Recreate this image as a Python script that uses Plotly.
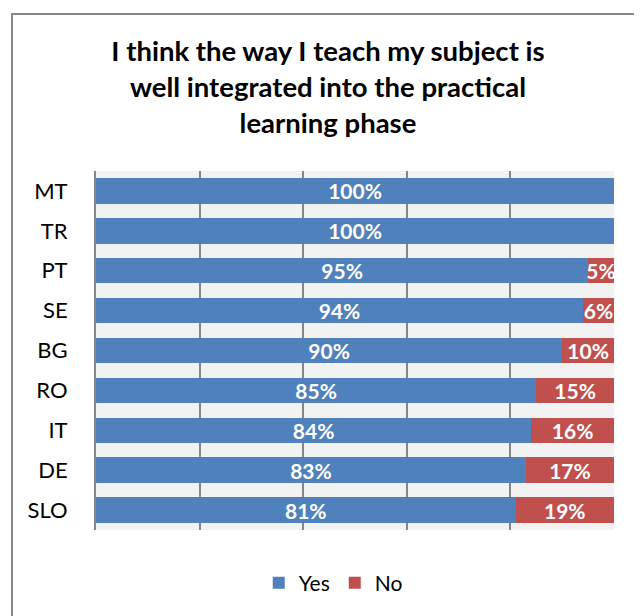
import plotly.graph_objects as go

countries = ["MT", "TR", "PT", "SE", "BG", "RO", "IT", "DE", "SLO"]
yes_pct = [100, 100, 95, 94, 90, 85, 84, 83, 81]
no_pct = [0, 0, 5, 6, 10, 15, 16, 17, 19]

title_text = "I think the way I teach my subject is<br>well integrated into the practical<br>learning phase"

FONT = "Lato"
BLUE = "#4F81BD"
RED = "#C0504D"
GRID = "#868686"

# the page puts the figure 8px in from the top-left corner
W, H = 634, 608


def labels(vals):
    return [f"{v}%" if v else "" for v in vals]


fig = go.Figure()
for name, vals, color in [("Yes", yes_pct, BLUE), ("No", no_pct, RED)]:
    fig.add_trace(go.Bar(
        y=countries,
        x=vals,
        name=name,
        orientation="h",
        marker=dict(color=color, line=dict(width=0)),
        text=labels(vals),
        textposition="inside",
        insidetextanchor="middle",
        constraintext="none",
        textangle=0,
        textfont=dict(family=FONT, size=21, color="white", weight="bold"),
    ))

fig.update_layout(
    barmode="stack",
    bargap=0.36,
    width=W,
    height=H,
    margin=dict(l=88, r=28, t=163, b=86),
    paper_bgcolor="white",
    plot_bgcolor="#f2f2f2",
    title=dict(
        text=title_text,
        font=dict(family=FONT, size=27.5, color="black", weight="bold"),
        x=320 / W, xanchor="center",
        y=1 - 53 / H, yanchor="middle",
    ),
    legend=dict(
        orientation="h",
        x=0.458, xanchor="center",
        y=-0.148, yanchor="middle",
        font=dict(family=FONT, size=21, color="black"),
        traceorder="normal",
    ),
    showlegend=True,
)

fig.update_xaxes(
    range=[0, 100],
    dtick=20,
    showticklabels=False,
    showgrid=True,
    gridcolor=GRID,
    gridwidth=2,
    zeroline=False,
    fixedrange=True,
)
fig.update_yaxes(
    categoryorder="array",
    categoryarray=countries[::-1],
    tickfont=dict(family=FONT, size=22, color="black"),
    ticklabelstandoff=22,
    showline=True,
    linecolor=GRID,
    linewidth=2,
    showgrid=False,
)

# outer chart border (cropped on right and bottom)
fig.add_shape(
    type="rect", xref="paper", yref="paper",
    x0=(4 - 88) / 518, x1=(660 - 88) / 518,
    y0=(522 - 640) / 359, y1=(522 - 6) / 359,
    line=dict(color=GRID, width=2), fillcolor="rgba(0,0,0,0)",
    layer="below",
)

fig.write_html("out.html")
